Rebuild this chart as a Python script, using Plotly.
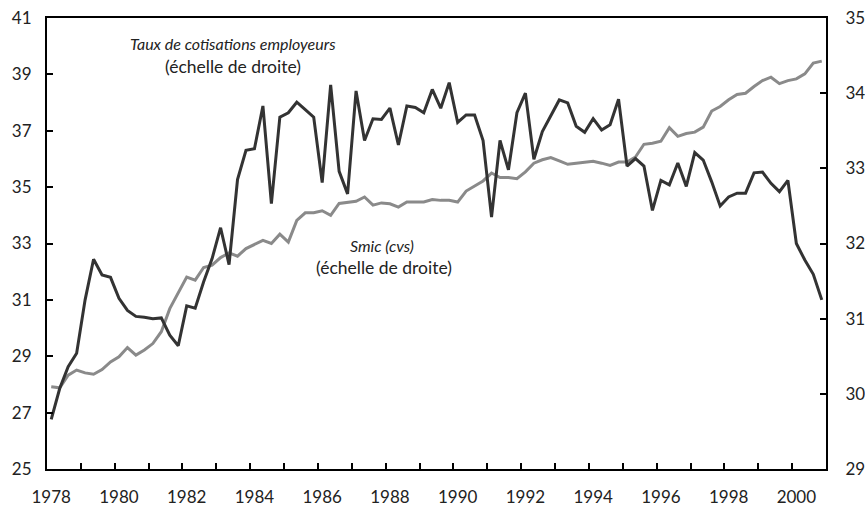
import plotly.graph_objects as go

# quarterly data, 1978Q1 .. 2000Q4
start_year = 1978
n_quarters = 92

# Smic (cvs) - left scale
smic = [
    27.92, 27.88, 28.33, 28.51, 28.41, 28.36, 28.53, 28.80, 28.98, 29.31,
    29.04, 29.22, 29.45, 29.87, 30.69, 31.23, 31.81, 31.70, 32.15, 32.23,
    32.50, 32.67, 32.55, 32.82, 32.97, 33.11, 33.00, 33.33, 33.05, 33.82,
    34.09, 34.09, 34.16, 34.00, 34.42, 34.45, 34.50, 34.65, 34.36, 34.44,
    34.41, 34.29, 34.47, 34.47, 34.47, 34.56, 34.53, 34.53, 34.47, 34.86,
    35.03, 35.22, 35.50, 35.34, 35.34, 35.30, 35.54, 35.85, 35.97, 36.05,
    35.93, 35.81, 35.85, 35.89, 35.92, 35.85, 35.77, 35.89, 35.89, 36.07,
    36.52, 36.56, 36.63, 37.11, 36.80, 36.90, 36.95, 37.13, 37.70, 37.86,
    38.10, 38.29, 38.33, 38.57, 38.78, 38.90, 38.67, 38.78, 38.84, 39.02,
    39.40, 39.47,
]

# Taux de cotisations employeurs - right scale
taux = [
    29.66, 30.07, 30.36, 30.54, 31.25, 31.79, 31.58, 31.55, 31.27, 31.11,
    31.03, 31.02, 31.00, 31.01, 30.78, 30.64, 31.17, 31.14, 31.49, 31.80,
    32.21, 31.72, 32.85, 33.24, 33.26, 33.83, 32.53, 33.68, 33.74, 33.88,
    33.78, 33.68, 32.81, 34.11, 32.96, 32.66, 34.03, 33.37, 33.66, 33.65,
    33.80, 33.31, 33.83, 33.81, 33.74, 34.05, 33.80, 34.14, 33.61, 33.71,
    33.71, 33.37, 32.35, 33.37, 32.98, 33.74, 34.00, 33.12, 33.49, 33.71,
    33.91, 33.87, 33.56, 33.48, 33.66, 33.51, 33.58, 33.92, 33.03, 33.13,
    33.03, 32.44, 32.84, 32.78, 33.07, 32.76, 33.21, 33.11, 32.82, 32.50,
    32.62, 32.67, 32.67, 32.94, 32.95, 32.80, 32.69, 32.84, 32.00, 31.78,
    31.59, 31.25,
]

year_labels = [str(y) for y in range(1978, 2001, 2)]
left_ticks = list(range(25, 42, 2))
right_ticks = list(range(29, 36))

# each quarter plotted at the middle of its slot
x = [start_year + (i + 0.5) / 4 for i in range(n_quarters)]

FONT = "Lato"
INK = "#222222"

fig = go.Figure()
fig.add_trace(go.Scatter(
    x=x, y=smic, mode="lines", name="Smic (cvs)",
    line=dict(color="#8a8a8a", width=3), yaxis="y",
))
fig.add_trace(go.Scatter(
    x=x, y=taux, mode="lines", name="Taux de cotisations employeurs",
    line=dict(color="#333333", width=3), yaxis="y2",
))

fig.update_layout(
    width=865, height=506,
    margin=dict(l=47, r=39, t=18, b=37),
    paper_bgcolor="white", plot_bgcolor="white",
    showlegend=False,
    font=dict(family=FONT, size=17, color=INK),
    xaxis=dict(
        range=[1978, 2001], automargin=False,
        tickvals=[int(y) + 0.125 for y in year_labels],
        ticktext=year_labels,
        ticks="", showgrid=False, zeroline=False,
        showline=True, linecolor="black", linewidth=2, mirror=True,
        ticklabelstandoff=12,
        minor=dict(tickvals=list(range(1979, 2001)), ticks="inside",
                   ticklen=6, tickwidth=1.5, tickcolor="black", showgrid=False),
    ),
    yaxis=dict(
        range=[25, 41], tickvals=left_ticks, automargin=False,
        ticks="inside", ticklen=6, tickwidth=1.5, tickcolor="black",
        showgrid=False, zeroline=False,
        showline=True, linecolor="black", linewidth=2,
        ticklabelstandoff=10,
    ),
    yaxis2=dict(
        range=[29, 35], tickvals=right_ticks, overlaying="y", side="right",
        automargin=False,
        ticks="inside", ticklen=6, tickwidth=1.5, tickcolor="black",
        showgrid=False, zeroline=False,
        showline=True, linecolor="black", linewidth=2,
        ticklabelstandoff=14,
    ),
)

notes = [
    ("<i>Taux de cotisations employeurs</i>", 1983.5, 40.1, 16),
    ("(échelle de droite)", 1983.5, 39.28, 17.5),
    ("<i>Smic (cvs)</i>", 1987.9, 32.94, 16),
    ("(échelle de droite)", 1987.95, 32.16, 17.5),
]
for text, ax, ay, size in notes:
    fig.add_annotation(x=ax, y=ay, xref="x", yref="y", text=text,
                       showarrow=False, font=dict(family=FONT, size=size, color=INK))

# drop the default page margin so the fixed-size figure sits at the window corner
fig.write_html("out.html", config={"displayModeBar": False},
               post_script="document.body.style.margin = '0';")
